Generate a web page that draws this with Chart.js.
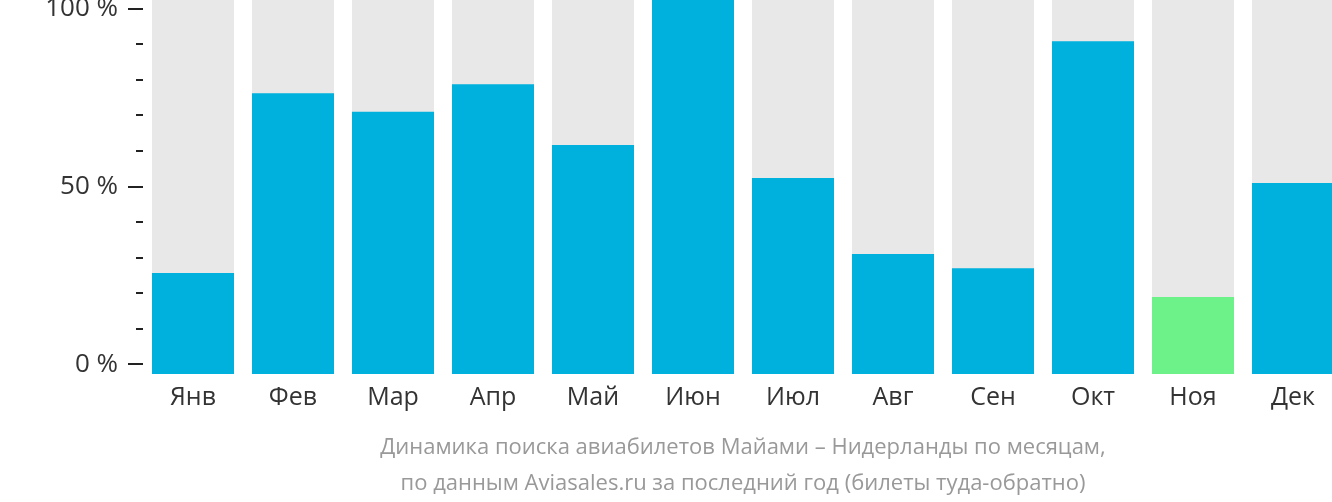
<!DOCTYPE html>
<html>
<head>
<meta charset="utf-8">
<script src="https://cdn.jsdelivr.net/npm/chart.js@4/dist/chart.umd.min.js"></script>
<style>
  html, body { margin: 0; padding: 0; background: #fff; overflow: hidden; }
  #wrap { width: 1332px; height: 502px; overflow: hidden; }
  #box { width: 1343px; height: 502px; }
</style>
</head>
<body>
<div id="wrap"><div id="box"><canvas id="searchChart"></canvas></div></div>
<script>
// months and relative search volume (max = 100)
const months = ['Янв', 'Фев', 'Мар', 'Апр', 'Май', 'Июн', 'Июл', 'Авг', 'Сен', 'Окт', 'Ноя', 'Дек'];
const searchShare = [27.0, 75.1, 70.1, 77.5, 61.2, 100, 52.4, 32.1, 28.3, 89.0, 20.6, 51.1];
const fullBar = [100, 100, 100, 100, 100, 100, 100, 100, 100, 100, 100, 100];
const axisTicks = [0, 10, 20, 30, 40, 50, 60, 70, 80, 90, 100];
const majorTicks = [0, 50, 100];
const captionLines = [
    'Динамика поиска авиабилетов Майами – Нидерланды по месяцам,',
    'по данным Aviasales.ru за последний год (билеты туда-обратно)'
];

const BLUE = '#00b1dd';
const GREEN = '#6cf288';
const GREY = '#e8e8e8';

// lowest month is highlighted
const minVal = Math.min(...searchShare);
const barColors = searchShare.map(v => v === minVal ? GREEN : BLUE);

// small dashes on the left axis, longer for labelled values
const axisDashes = {
    id: 'axisDashes',
    afterDraw(chart) {
        const ctx = chart.ctx;
        const scale = chart.scales.y;
        const left = chart.chartArea.left;
        ctx.save();
        ctx.strokeStyle = '#222';
        ctx.lineWidth = 2;
        axisTicks.forEach(v => {
            const y = Math.round(scale.getPixelForValue(v));
            const len = majorTicks.includes(v) ? 15 : 7;
            ctx.beginPath();
            ctx.moveTo(left - len, y);
            ctx.lineTo(left, y);
            ctx.stroke();
        });
        ctx.restore();
    }
};

const ctx = document.getElementById('searchChart').getContext('2d');
new Chart(ctx, {
    type: 'bar',
    data: {
        labels: months,
        datasets: [
            {
                label: 'Поиски',
                data: searchShare,
                backgroundColor: barColors,
                yAxisID: 'yb',
                order: 1
            },
            {
                label: 'Фон',
                data: fullBar,
                backgroundColor: GREY,
                yAxisID: 'yb',
                order: 2
            }
        ]
    },
    plugins: [axisDashes],
    options: {
        responsive: true,
        maintainAspectRatio: false,
        animation: false,
        grouped: false,
        barPercentage: 0.82,
        categoryPercentage: 1,
        layout: { padding: 0 },
        plugins: {
            legend: { display: false },
            tooltip: { enabled: false }
        },
        scales: {
            x: {
                grid: { display: false, drawTicks: false },
                border: { display: false },
                afterFit: scale => { scale.paddingLeft = 0; scale.paddingRight = 0; scale.height = 128; },
                ticks: {
                    color: '#333',
                    padding: 9,
                    font: { family: 'Open Sans', size: 25 }
                },
                title: {
                    display: true,
                    text: captionLines,
                    color: '#999',
                    font: { family: 'Open Sans', size: 22, lineHeight: 1.65 },
                    padding: { top: 8, bottom: 0 }
                }
            },
            y: {
                position: 'left',
                min: -2.67,
                max: 102.39,
                afterBuildTicks: scale => {
                    scale.ticks = axisTicks.map(v => ({ value: v }));
                },
                afterFit: scale => { scale.width = 143; scale.paddingTop = 0; scale.paddingBottom = 0; },
                grid: { display: false, drawTicks: false },
                border: { display: false },
                ticks: {
                    color: '#333',
                    padding: 25,
                    autoSkip: false,
                    font: { family: 'Open Sans', size: 26 },
                    callback: v => majorTicks.includes(v) ? v + ' %' : ''
                }
            },
            yb: {
                display: false,
                min: 0,
                max: 100
            }
        }
    }
});
</script>
</body>
</html>
